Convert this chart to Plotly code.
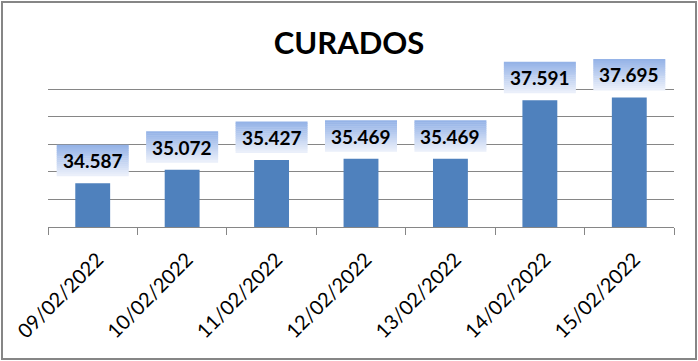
import plotly.graph_objects as go

categories = ["09/02/2022", "10/02/2022", "11/02/2022", "12/02/2022",
              "13/02/2022", "14/02/2022", "15/02/2022"]
values = [34587, 35072, 35427, 35469, 35469, 37591, 37695]
labels = ["34.587", "35.072", "35.427", "35.469", "35.469", "37.591", "37.695"]
grid_vals = [33000, 34000, 35000, 36000, 37000, 38000]
title_text = "CURADOS"

W, H = 698, 361
L, R, T, B = 48, 24, 50, 134
y_min, y_grid_top = 33000, 38000
grid_top_px = 89
plot_h = H - T - B
axis_px = H - B
px_per_unit = (axis_px - grid_top_px) / (y_grid_top - y_min)
y_max = y_min + plot_h / px_per_unit

bar_color = "#4F81BD"
grid_color = "#868686"
FONT = "Lato"

fig = go.Figure()
fig.add_trace(go.Bar(x=categories, y=values, marker_color=bar_color,
                     marker_line_width=0, hoverinfo="skip"))

# gradient label boxes
def lerp(c1, c2, t):
    return "rgb(%d,%d,%d)" % tuple(round(a + (b - a) * t) for a, b in zip(c1, c2))

top_c = (149, 179, 231)
bot_c = (234, 239, 250)
n_strips = 16
box_w, box_bottom, box_h = 72, 7, 31
shapes = []
for i, v in enumerate(values):
    for s in range(n_strips):
        t = s / (n_strips - 1)
        y0 = box_bottom + box_h * (1 - (s + 1) / n_strips)
        y1 = box_bottom + box_h * (1 - s / n_strips)
        shapes.append(dict(type="rect", xref="x", yref="y",
                           xsizemode="pixel", ysizemode="pixel",
                           xanchor=i, yanchor=v,
                           x0=-box_w / 2, x1=box_w / 2, y0=y0, y1=y1 + 0.5,
                           line_width=0, fillcolor=lerp(top_c, bot_c, t),
                           layer="above"))

annotations = []
for c, v, lab in zip(categories, values, labels):
    annotations.append(dict(x=c, y=v, xref="x", yref="y", text="<b>%s</b>" % lab,
                            showarrow=False, yanchor="middle",
                            yshift=box_bottom + box_h / 2,
                            font=dict(family=FONT, size=19, color="black")))

# outer border
pw = W - L - R
shapes.append(dict(type="rect", xref="paper", yref="paper",
                   x0=(2 - L) / pw, x1=(W - 2 - L) / pw,
                   y0=-(H - 2 - T - plot_h) / plot_h, y1=1 + (T - 2) / plot_h,
                   line=dict(color=grid_color, width=2), fillcolor="rgba(0,0,0,0)",
                   layer="below"))

fig.update_layout(
    width=W, height=H,
    margin=dict(l=L, r=R, t=T, b=B, pad=0, autoexpand=False),
    paper_bgcolor="white", plot_bgcolor="white",
    showlegend=False,
    bargap=0.61,
    title=dict(text="<b>%s</b>" % title_text, x=0.5, xref="container",
               y=1 - 43 / H, yref="container", yanchor="middle", xanchor="center",
               automargin=False,
               font=dict(family=FONT, size=31, color="black")),
    shapes=shapes,
    annotations=annotations,
    font=dict(family=FONT),
)
fig.update_xaxes(type="category", showline=True, linecolor=grid_color, linewidth=1,
                 ticks="outside", tickson="boundaries", ticklen=7, tickcolor=grid_color,
                 tickangle=-45, tickfont=dict(family=FONT, size=20, color="black"),
                 ticklabelstandoff=12, ticklabelshift=5,
                 showgrid=False, zeroline=False, automargin=False)
fig.update_yaxes(range=[y_min, y_max], tickvals=grid_vals, showticklabels=False,
                 showgrid=True, gridcolor=grid_color, gridwidth=1, zeroline=False,
                 showline=False, automargin=False)

fig.write_html("out.html", config={"displayModeBar": False},
               post_script="document.body.style.margin='0';")
